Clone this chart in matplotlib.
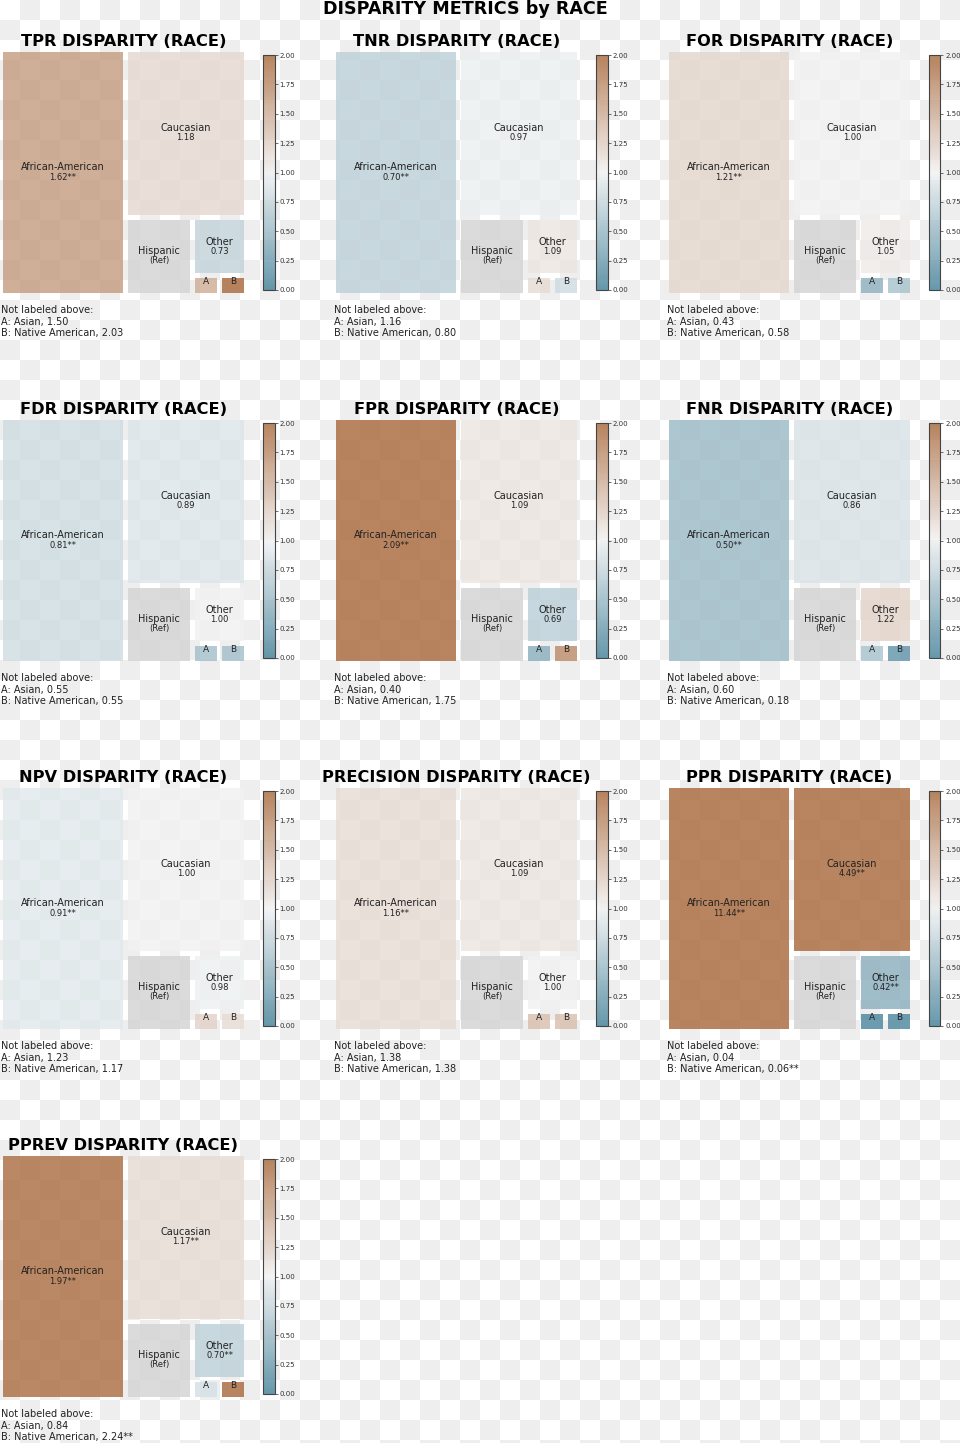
import numpy as np
import matplotlib
matplotlib.use("Agg")
import matplotlib.pyplot as plt
import matplotlib.colors as mcolors
from matplotlib.colorbar import Colorbar
import seaborn as sns

# ---------------- data ----------------
groups = ["African-American", "Caucasian", "Hispanic", "Other", "Asian", "Native American"]
group_sizes = [3696, 2454, 637, 377, 64, 64]
ref_group = "Hispanic"
n_labeled = 4          # first four groups are labeled inside the treemap
short_names = ["A", "B"]

metric_names = ["TPR", "TNR", "FOR", "FDR", "FPR", "FNR", "NPV", "PRECISION", "PPR", "PPREV"]

tpr_disp = [1.62, 1.18, 1.00, 0.73, 1.50, 2.03]
tnr_disp = [0.70, 0.97, 1.00, 1.09, 1.16, 0.80]
for_disp = [1.21, 1.00, 1.00, 1.05, 0.43, 0.58]
fdr_disp = [0.81, 0.89, 1.00, 1.00, 0.55, 0.55]
fpr_disp = [2.09, 1.09, 1.00, 0.69, 0.40, 1.75]
fnr_disp = [0.50, 0.86, 1.00, 1.22, 0.60, 0.18]
npv_disp = [0.91, 1.00, 1.00, 0.98, 1.23, 1.17]
precision_disp = [1.16, 1.09, 1.00, 1.00, 1.38, 1.38]
ppr_disp = [11.44, 4.49, 1.00, 0.42, 0.04, 0.06]
pprev_disp = [1.97, 1.17, 1.00, 0.70, 0.84, 2.24]

tpr_sig = [True, False, False, False, False, False]
tnr_sig = [True, False, False, False, False, False]
for_sig = [True, False, False, False, False, False]
fdr_sig = [True, False, False, False, False, False]
fpr_sig = [True, False, False, False, False, False]
fnr_sig = [True, False, False, False, False, False]
npv_sig = [True, False, False, False, False, False]
precision_sig = [True, False, False, False, False, False]
ppr_sig = [True, True, False, True, False, True]
pprev_sig = [True, True, False, True, False, True]

all_disp = [tpr_disp, tnr_disp, for_disp, fdr_disp, fpr_disp, fnr_disp,
            npv_disp, precision_disp, ppr_disp, pprev_disp]
all_sig = [tpr_sig, tnr_sig, for_sig, fdr_sig, fpr_sig, fnr_sig,
           npv_sig, precision_sig, ppr_sig, pprev_sig]

colorbar_ticks = [0.0, 0.25, 0.5, 0.75, 1.0, 1.25, 1.5, 1.75, 2.0]


# ---------------- squarify layout ----------------
def normalize_sizes(sizes, dx, dy):
    total = float(sum(sizes))
    return [s * dx * dy / total for s in sizes]


def layoutrow(sizes, x, y, dx, dy):
    width = sum(sizes) / dy
    rects = []
    for s in sizes:
        rects.append({"x": x, "y": y, "dx": width, "dy": s / width})
        y += s / width
    return rects


def layoutcol(sizes, x, y, dx, dy):
    height = sum(sizes) / dx
    rects = []
    for s in sizes:
        rects.append({"x": x, "y": y, "dx": s / height, "dy": height})
        x += s / height
    return rects


def layout(sizes, x, y, dx, dy):
    return layoutrow(sizes, x, y, dx, dy) if dx >= dy else layoutcol(sizes, x, y, dx, dy)


def leftover(sizes, x, y, dx, dy):
    if dx >= dy:
        w = sum(sizes) / dy
        return x + w, y, dx - w, dy
    h = sum(sizes) / dx
    return x, y + h, dx, dy - h


def worst_ratio(sizes, x, y, dx, dy):
    return max(max(r["dx"] / r["dy"], r["dy"] / r["dx"]) for r in layout(sizes, x, y, dx, dy))


def squarify(sizes, x, y, dx, dy):
    sizes = list(map(float, sizes))
    if len(sizes) == 0:
        return []
    if len(sizes) == 1:
        return layout(sizes, x, y, dx, dy)
    i = 1
    while i < len(sizes) and worst_ratio(sizes[:i], x, y, dx, dy) >= worst_ratio(sizes[:i + 1], x, y, dx, dy):
        i += 1
    cur, rem = sizes[:i], sizes[i:]
    lx, ly, ldx, ldy = leftover(cur, x, y, dx, dy)
    return layout(cur, x, y, dx, dy) + squarify(rem, lx, ly, ldx, ldy)


def pad(rects):
    for r in rects:
        if r["dx"] > 2:
            r["x"] += 1
            r["dx"] -= 2
        if r["dy"] > 2:
            r["y"] += 1
            r["dy"] -= 2
    return rects


# ---------------- figure ----------------
W, H = 960, 1443
fig = plt.figure(figsize=(W / 100, H / 100), dpi=100)
fig.patch.set_facecolor("white")


def px(x, y, w, h):
    return [x / W, 1 - (y + h) / H, w / W, h / H]


# transparency-style checkerboard background
bg = fig.add_axes([0, 0, 1, 1])
bg.set_zorder(-5)
nrow, ncol = int(np.ceil(H / 20)), int(np.ceil(W / 20))
checker = (np.add.outer(np.arange(nrow), np.arange(ncol)) % 2).astype(float)
bg.imshow(checker, cmap=mcolors.ListedColormap(["#ffffff", "#eeeeee"]),
          extent=[0, ncol * 20, nrow * 20, 0], interpolation="nearest", aspect="auto")
bg.set_xlim(0, W)
bg.set_ylim(H, 0)
bg.axis("off")

cmap = sns.diverging_palette(225, 35, as_cmap=True)
norm = mcolors.Normalize(vmin=0, vmax=2)
ALPHA = 0.8
TXT = "#222222"

fig.text(464.9 / W, 1 - 14.5 / H, "DISPARITY METRICS by RACE", ha="center", va="baseline",
         fontsize=12.6, fontweight="bold", color="black")

for i, (mname, vals, sigs) in enumerate(zip(metric_names, all_disp, all_sig)):
    r, c = divmod(i, 3)
    ox, oy = 333 * c, 368 * r

    ax = fig.add_axes(px(ox + 0.5, oy + 49.5, 246, 246))
    ax.set_xlim(0, 100)
    ax.set_ylim(100, 0)
    ax.axis("off")

    rects = pad(squarify(normalize_sizes(group_sizes, 100, 100), 0, 0, 100, 100))
    colors = ["#d3d3d3" if g == ref_group else cmap(norm(v)) for g, v in zip(groups, vals)]
    ax.bar([q["x"] for q in rects], [q["dy"] for q in rects],
           width=[q["dx"] for q in rects], bottom=[q["y"] for q in rects],
           align="edge", color=colors, alpha=ALPHA, linewidth=0)

    for k, (g, v, s, q) in enumerate(zip(groups, vals, sigs, rects)):
        cx = q["x"] + q["dx"] / 2
        cy = q["y"] + q["dy"] / 2
        if k < n_labeled:
            name = g
            if g == ref_group:
                sub = "(Ref)"
            else:
                sub = f"{v:.2f}" + ("**" if s else "")
            ax.text(cx, cy, name, ha="center", va="bottom", fontsize=7, color=TXT)
            ax.text(cx, cy, sub, ha="center", va="top", fontsize=6, color=TXT)
        else:
            ax.text(cx, cy, short_names[k - n_labeled], ha="center", va="bottom",
                    fontsize=6.5, color=TXT)

    fig.text((ox + 123.5) / W, 1 - (oy + 45.5) / H, f"{mname} DISPARITY (RACE)",
             ha="center", va="baseline", fontsize=11.7, fontweight="bold", color="black")

    lines = ["Not labeled above:"]
    for k in range(n_labeled, len(groups)):
        lines.append(f"{short_names[k - n_labeled]}: {groups[k]}, {vals[k]:.2f}" + ("**" if sigs[k] else ""))
    fig.text((ox + 1) / W, 1 - (oy + 305) / H, "\n".join(lines), ha="left", va="top",
             fontsize=7, color=TXT)

    cax = fig.add_axes(px(ox + 263, oy + 55, 11.5, 235))
    cax.set_facecolor("none")
    cb = Colorbar(cax, cmap=cmap, norm=norm, alpha=ALPHA, ticks=colorbar_ticks)
    cb.ax.yaxis.set_major_formatter(matplotlib.ticker.FormatStrFormatter("%.2f"))
    cb.ax.tick_params(labelsize=5, length=2, width=0.5, pad=1.5, colors="#333333")
    cb.outline.set_linewidth(0.8)
    cb.outline.set_edgecolor("#444444")

fig.savefig("out.png", dpi=100)
